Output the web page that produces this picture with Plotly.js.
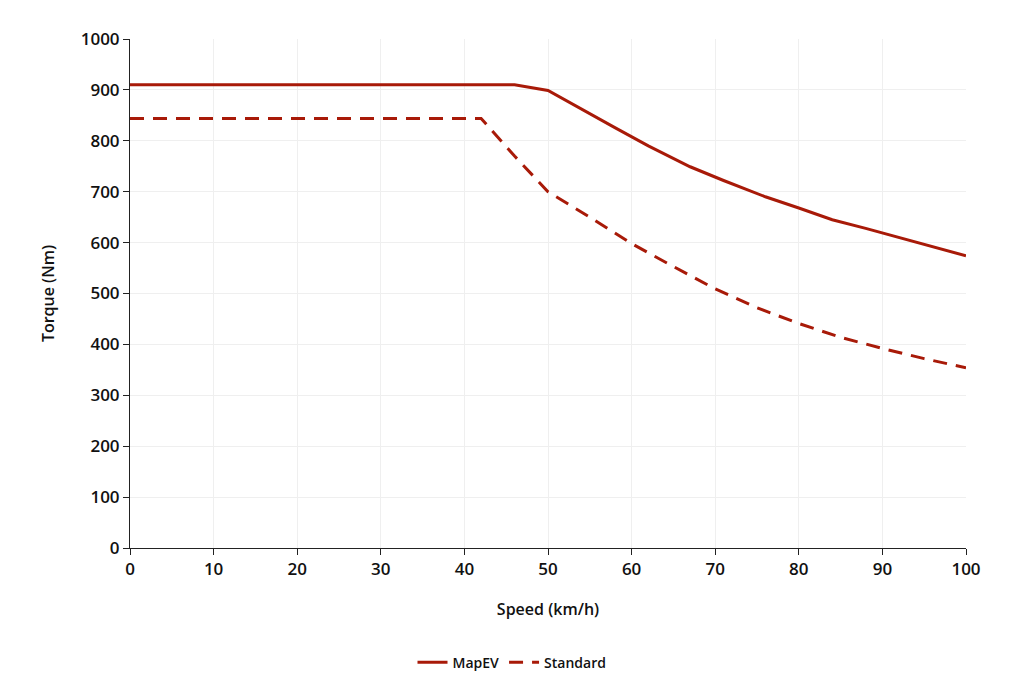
<!DOCTYPE html>
<html>
<head>
<meta charset="utf-8">
<script src="https://cdn.plot.ly/plotly-3.0.1.min.js"></script>
<style>
  html, body { margin: 0; padding: 0; background: #fff; }
  #chart { width: 1024px; height: 688px; }
</style>
</head>
<body>
<div id="chart"></div>
<script>
"use strict";

// Speed (km/h) vs torque (Nm)
var mapevSpeed = [0, 10, 20, 30, 40, 46, 50, 54, 58, 62, 67, 71, 76, 80, 84, 88, 92, 96, 100]
var mapevTorque = [910, 910, 910, 910, 910, 910, 899, 862, 826, 790, 749, 722, 690, 668, 645, 628, 610, 593, 574]

var standardSpeed = [0, 10, 20, 30, 40, 42, 46, 50, 55, 60, 65, 70, 75, 80, 85, 90, 95, 100]
var standardTorque = [844, 844, 844, 844, 844, 844, 770, 700, 650, 598, 553, 509, 472, 441, 414, 392, 372, 354]

var lineColor = "#a81a08"

var traces = [
  {
    x: mapevSpeed,
    y: mapevTorque,
    type: "scatter",
    mode: "lines",
    name: "MapEV",
    line: { color: lineColor, width: 3 }
  },
  {
    x: standardSpeed,
    y: standardTorque,
    type: "scatter",
    mode: "lines",
    name: "Standard",
    line: { color: lineColor, width: 3, dash: "14px,9px" }
  }
]

var fontFamily = "Open Sans, sans-serif"
var axisFont = { family: fontFamily, size: 17, color: "#111", weight: 600 }

var layout = {
  width: 1024,
  height: 688,
  margin: { l: 130, r: 58, t: 39, b: 140 },
  paper_bgcolor: "#fff",
  plot_bgcolor: "#fff",
  font: axisFont,
  showlegend: true,
  legend: {
    orientation: "h",
    x: 0.5,
    xanchor: "center",
    xref: "container",
    y: 0.06,
    yanchor: "top",
    yref: "container",
    font: { family: fontFamily, size: 14, color: "#111", weight: 600 }
  },
  xaxis: {
    range: [0, 100],
    dtick: 10,
    tick0: 0,
    showline: true,
    linecolor: "#222",
    linewidth: 1,
    ticks: "outside",
    ticklen: 6,
    tickcolor: "#222",
    gridcolor: "#efefef",
    zeroline: false,
    tickfont: axisFont,
    title: { text: "Speed (km/h)", font: { family: fontFamily, size: 16, color: "#111", weight: 600 }, standoff: 24 }
  },
  yaxis: {
    range: [0, 1000],
    dtick: 100,
    tick0: 0,
    showline: true,
    linecolor: "#222",
    linewidth: 1,
    ticks: "outside",
    ticklen: 6,
    tickcolor: "#222",
    gridcolor: "#efefef",
    zeroline: false,
    tickfont: axisFont,
    title: { text: "Torque (Nm)", font: { family: fontFamily, size: 16, color: "#111", weight: 600 }, standoff: 22 }
  }
}

Plotly.newPlot("chart", traces, layout, { displayModeBar: false, staticPlot: true })
</script>
</body>
</html>
